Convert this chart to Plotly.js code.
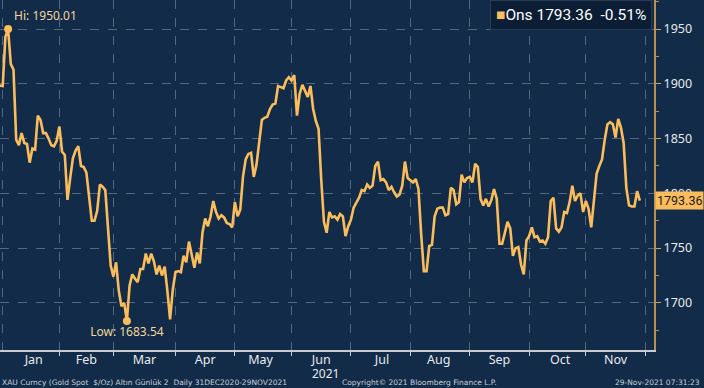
<!DOCTYPE html>
<html>
<head>
<meta charset="utf-8">
<script src="https://cdn.plot.ly/plotly-3.0.1.min.js"></script>
<style>html,body{margin:0;padding:0;background:#112b48;}#chart{width:704px;height:388px;}</style>
</head>
<body>
<div id="chart"></div>
<script>
// Gold spot (XAU) daily closes, weekdays 31 Dec 2020 – 29 Nov 2021
const startDate = '2020-12-31';
const dec2020 = [1898.36];
const jan = [1898, 1943, 1950.01, 1918, 1913, 1849, 1844, 1855, 1846, 1845, 1828, 1841, 1840, 1871, 1867, 1855, 1855, 1850, 1844, 1843, 1848];
const feb = [1861, 1838, 1835, 1794, 1814, 1832, 1839, 1843, 1825, 1824, 1819, 1799, 1775, 1775, 1784, 1808, 1806, 1803, 1770, 1734];
const mar = [1724, 1737, 1711, 1697, 1700, 1683.54, 1716, 1726, 1722, 1719, 1731, 1731, 1745, 1736, 1745, 1738, 1726, 1734, 1725, 1733, 1711, 1685, 1712];
const apr = [1728, 1729, 1728, 1743, 1737, 1756, 1744, 1732, 1746, 1736, 1764, 1777, 1770, 1779, 1793, 1783, 1777, 1780, 1778, 1773, 1772, 1769];
const may = [1792, 1779, 1785, 1815, 1831, 1836, 1837, 1815, 1826, 1844, 1867, 1869, 1870, 1877, 1881, 1882, 1898, 1897, 1896, 1903, 1906];
const jun = [1903, 1908, 1871, 1891, 1899, 1893, 1888, 1898, 1877, 1866, 1859, 1812, 1774, 1764, 1783, 1778, 1779, 1776, 1781, 1779, 1761, 1770];
const jul = [1776, 1787, 1791, 1796, 1803, 1802, 1808, 1805, 1807, 1825, 1829, 1812, 1813, 1810, 1803, 1806, 1801, 1797, 1799, 1807, 1829, 1814];
const aug = [1812, 1810, 1813, 1804, 1763, 1729, 1729, 1752, 1753, 1779, 1786, 1787, 1787, 1780, 1781, 1805, 1803, 1790, 1792, 1817, 1810, 1814];
const sep = [1815, 1810, 1827, 1824, 1795, 1789, 1795, 1788, 1794, 1804, 1795, 1754, 1754, 1764, 1774, 1768, 1743, 1750, 1751, 1735, 1726, 1757];
const oct = [1761, 1769, 1760, 1761, 1756, 1757, 1754, 1760, 1793, 1796, 1768, 1765, 1769, 1783, 1782, 1792, 1807, 1793, 1798, 1800, 1783];
const nov = [1793, 1786, 1769, 1793, 1818, 1825, 1831, 1849, 1863, 1865, 1863, 1851, 1868, 1860, 1846, 1805, 1789, 1788, 1788, 1802, 1793.36];

const seriesName = 'Ons';
const lastValue = '1793.36';
const changeText = '-0.51%';

const prices = [].concat(dec2020, jan, feb, mar, apr, may, jun, jul, aug, sep, oct, nov);

function weekdayDates(start, n) {
  const d = new Date(start + 'T00:00:00Z');
  const out = [];
  while (out.length < n) {
    const w = d.getUTCDay();
    if (w !== 0 && w !== 6) out.push(d.toISOString().slice(0, 10));
    d.setUTCDate(d.getUTCDate() + 1);
  }
  return out;
}
const dates = weekdayDates(startDate, prices.length);

let hiIdx = 0, loIdx = 0;
prices.forEach((v, i) => { if (v > prices[hiIdx]) hiIdx = i; if (v < prices[loIdx]) loIdx = i; });

const GOLD = '#fbbd5c';
const BG = '#112b48';
const GRID = 'rgba(165,180,200,0.45)';
const FONT = 'Noto Sans, DejaVu Sans, sans-serif';

const traces = [
  {
    x: dates, y: prices, type: 'scatter', mode: 'lines',
    line: {color: GOLD, width: 2.6}, hoverinfo: 'skip'
  },
  {
    x: [dates[hiIdx], dates[loIdx]],
    y: [prices[hiIdx], prices[loIdx]],
    type: 'scatter', mode: 'markers+text',
    marker: {color: GOLD, size: 8},
    text: ['Hi: ' + prices[hiIdx].toFixed(2), 'Low: ' + prices[loIdx].toFixed(2)],
    textposition: ['top right', 'bottom center'],
    textfont: {color: '#f3d69e', size: 12, family: FONT},
    hoverinfo: 'skip'
  }
];

const layout = {
  width: 704, height: 388,
  paper_bgcolor: BG, plot_bgcolor: BG,
  margin: {l: 0, r: 50, t: 0, b: 38},
  showlegend: false,
  xaxis: {
    type: 'date',
    range: ['2020-12-31', '2021-12-06 06:00'],
    rangebreaks: [{bounds: ['sat', 'mon']}],
    dtick: 'M1', tick0: '2021-01-01',
    ticklabelmode: 'period', tickformat: '%b',
    ticklabelstandoff: -7,
    showgrid: true, gridcolor: GRID, griddash: 'dash', gridwidth: 1,
    ticks: 'outside', ticklen: 4, tickcolor: '#c8ccd2',
    showline: true, linecolor: '#c8ccd2', linewidth: 2,
    tickfont: {color: '#e8eaec', size: 12.5, family: FONT},
    zeroline: false, fixedrange: true
  },
  yaxis: {
    side: 'right',
    range: [1657, 1976.5],
    dtick: 50, tick0: 1700,
    showgrid: true, gridcolor: GRID, griddash: 'dash', gridwidth: 1,
    ticks: 'outside', ticklen: 5, tickcolor: '#d8a350',
    showline: true, linecolor: '#b98f52', linewidth: 2,
    minor: {dtick: 25, ticks: 'outside', ticklen: 3, tickcolor: '#b98f52', showgrid: false},
    tickfont: {color: '#e8eaec', size: 12.5, family: FONT},
    zeroline: false, fixedrange: true
  },
  annotations: [
    {
      xref: 'paper', yref: 'paper', x: 0.997, y: 1.0, xanchor: 'right', yanchor: 'top',
      text: '<span style="color:' + GOLD + '">■</span>' + seriesName + '\u00a0' + lastValue + '\u00a0\u00a0' + changeText,
      showarrow: false, bgcolor: '#0b1e35', bordercolor: '#2a3d57', borderwidth: 1, borderpad: 5,
      font: {color: '#ffffff', size: 15.5, family: 'Roboto, Noto Sans, sans-serif'}
    },
    {
      xref: 'paper', yref: 'y', x: 1, y: prices[prices.length - 1], xanchor: 'left', yanchor: 'middle', xshift: 1,
      text: lastValue, showarrow: false, bgcolor: GOLD, borderpad: 1,
      font: {color: '#1a1a1a', size: 12.5, family: 'Roboto, Noto Sans, sans-serif'}
    },
    {
      xref: 'paper', yref: 'paper', x: 0.497, y: -0.067, xanchor: 'center', yanchor: 'middle',
      text: '2021', showarrow: false, font: {color: '#e8eaec', size: 12, family: FONT}
    },
    {
      xref: 'paper', yref: 'paper', x: 0, y: -0.094, xanchor: 'left', yanchor: 'middle',
      text: 'XAU Curncy (Gold Spot \u00a0$/Oz) Altın Günlük 2 \u00a0Daily 31DEC2020-29NOV2021',
      showarrow: false, font: {color: '#c9ced6', size: 7.5, family: 'DejaVu Sans, sans-serif'}
    },
    {
      xref: 'paper', yref: 'paper', x: 0.642, y: -0.094, xanchor: 'center', yanchor: 'middle',
      text: 'Copyright© 2021 Bloomberg Finance L.P.',
      showarrow: false, font: {color: '#c9ced6', size: 7.5, family: 'DejaVu Sans, sans-serif'}
    },
    {
      xref: 'paper', yref: 'paper', x: 1.073, y: -0.094, xanchor: 'right', yanchor: 'middle',
      text: '29-Nov-2021 07:31:23',
      showarrow: false, font: {color: '#c9ced6', size: 7.5, family: 'DejaVu Sans, sans-serif'}
    }
  ]
};

Plotly.newPlot('chart', traces, layout, {displayModeBar: false, staticPlot: true});
</script>
</body>
</html>
